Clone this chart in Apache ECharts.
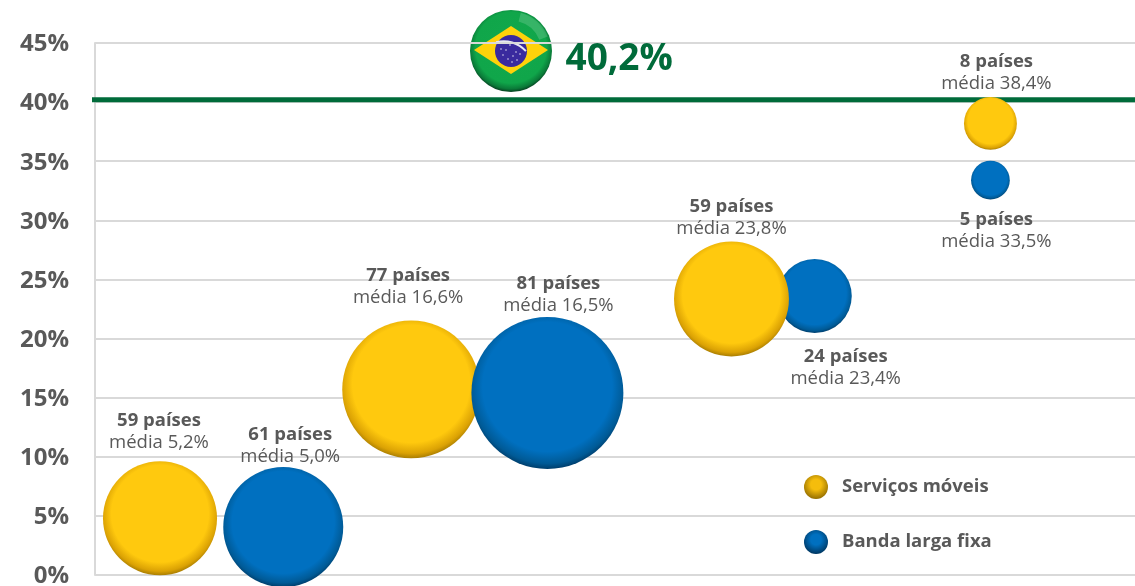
<!DOCTYPE html>
<html>
<head>
<meta charset="utf-8">
<style>
html, body { margin: 0; padding: 0; background: #fff; }
#main { width: 1135px; height: 586px; }
</style>
<script src="https://cdn.jsdelivr.net/npm/echarts@6/dist/echarts.min.js"></script>
</head>
<body>
<div id="main"></div>
<script>
// valores
const movelX = [6.25, 30.4, 61.2, 86.1];
const movelY = [4.8, 15.7, 23.35, 38.2];
const movelBolha = [130, 190, 132, 28];
const movelPaises = [59, 77, 59, 8];
const movelMedia = ['5,2', '16,6', '23,8', '38,4'];

const fixaX = [18.1, 43.5, 69.2, 86.1];
const fixaY = [4.05, 15.4, 23.6, 33.4];
const fixaBolha = [144, 231, 55, 15];
const fixaPaises = [61, 81, 24, 5];
const fixaMedia = ['5,0', '16,5', '23,4', '33,5'];

const brasilValor = 40.2;
const brasilTexto = '40,2%';

const textColor = '#595959';
const fontName = '"Open Sans", sans-serif';

function bolhaGrad(meio, borda, fundo) {
  return new echarts.graphic.RadialGradient(0.5, 0.46, 0.56, [
    { offset: 0, color: meio },
    { offset: 0.76, color: meio },
    { offset: 0.9, color: borda },
    { offset: 1, color: fundo }
  ]);
}
const amarelo = bolhaGrad('#FFC90E', '#dba204', '#8f6a00');
const azul = bolhaGrad('#0070C0', '#005a96', '#002f55');

function esferaGrad(claro, escuro) {
  return new echarts.graphic.RadialGradient(0.5, 0.4, 0.62, [
    { offset: 0, color: claro },
    { offset: 0.35, color: claro },
    { offset: 1, color: escuro }
  ]);
}

function labelFor(paises, media, pos) {
  return {
    show: true,
    position: pos.position,
    distance: pos.distance,
    offset: pos.offset,
    formatter: '{a|' + paises + ' países}\n{b|média ' + media + '%}',
    rich: {
      a: { fontFamily: fontName, fontWeight: 'bold', fontSize: 18.5, color: textColor, lineHeight: 22 },
      b: { fontFamily: fontName, fontSize: 18.5, color: textColor, lineHeight: 22 }
    }
  };
}

const movelPos = [
  { position: 'top', distance: 8, offset: [-1, 0] },
  { position: 'top', distance: 12, offset: [-3, 0] },
  { position: 'top', distance: 2, offset: [0, 0] },
  { position: 'top', distance: 2, offset: [6, 0] }
];
const fixaPos = [
  { position: 'top', distance: -1, offset: [7, 0] },
  { position: 'top', distance: 0, offset: [11, 0] },
  { position: 'bottom', distance: 13, offset: [31, 0] },
  { position: 'bottom', distance: 9, offset: [6, 0] }
];

function pontos(xs, ys, tam, paises, medias, posicoes, idx) {
  return idx.map(function (i) {
    return {
      value: [xs[i], ys[i], tam[i]],
      label: labelFor(paises[i], medias[i], posicoes[i])
    };
  });
}

function bolhas(nome, cor, data, z) {
  return {
    name: nome,
    type: 'scatter',
    clip: false,
    z: z,
    symbolSize: function (v) { return Math.sqrt(v[2]) * 10; },
    itemStyle: { color: cor, opacity: 1 },
    emphasis: { disabled: true },
    data: data
  };
}

// bandeira do Brasil (enfeite em cima da linha)
const estrelas = [[-8, 4], [-3, 8], [2, 5], [6, 9], [9, 3], [-10, -2], [1, 11], [-5, -1], [5, 1], [-1, -6]];
const flag = {
  type: 'group',
  x: 511,
  y: 51,
  z: 10,
  children: [
    { type: 'circle', shape: { r: 41 }, style: { fill: new echarts.graphic.RadialGradient(0.5, 0.46, 0.54, [
        { offset: 0, color: '#12a84c' }, { offset: 0.8, color: '#10a64a' }, { offset: 0.93, color: '#0a7a38' }, { offset: 1, color: '#063f20' }
      ]) } },
    { type: 'arc', shape: { cx: 0, cy: 0, r: 35, startAngle: -Math.PI * 0.42, endAngle: -Math.PI * 0.12 },
      style: { stroke: 'rgba(255,255,255,0.16)', lineWidth: 9, fill: null } },
    { type: 'polygon', shape: { points: [[-37, -1], [0, -25], [37, -1], [0, 23]] }, style: { fill: '#FFD20A' } },
    { type: 'circle', shape: { cx: 0, cy: 0, r: 16 }, style: { fill: '#3a2a9e' } },
    { type: 'arc', shape: { cx: -7.4, cy: 20.2, r: 30, startAngle: -Math.PI * 0.581, endAngle: -Math.PI * 0.233 },
      style: { stroke: '#e8e8f2', lineWidth: 2, fill: null } }
  ].concat(estrelas.map(function (p) {
    return { type: 'circle', shape: { cx: p[0], cy: p[1], r: 0.7 }, style: { fill: '#fff' } };
  }))
};

const chart = echarts.init(document.getElementById('main'));
chart.setOption({
  animation: false,
  textStyle: { fontFamily: fontName },
  grid: { left: 95, right: 0, top: 43, bottom: 11, outerBoundsMode: 'none' },
  legend: {
    left: 804,
    top: 475,
    padding: 0,
    orient: 'vertical',
    icon: 'circle',
    itemWidth: 24,
    itemHeight: 24,
    itemGap: 31,
    selectedMode: false,
    textStyle: { fontFamily: fontName, fontWeight: 'bold', fontSize: 18.5, color: textColor, padding: [0, 0, 0, 9] },
    data: [
      { name: 'Serviços móveis', itemStyle: { color: esferaGrad('#f5bd0c', '#8f6a00') } },
      { name: 'Banda larga fixa', itemStyle: { color: esferaGrad('#0070c0', '#00345c') } }
    ]
  },
  xAxis: { type: 'value', min: 0, max: 100, show: false, splitLine: { show: false } },
  yAxis: {
    type: 'value',
    min: 0,
    max: 45,
    interval: 5,
    axisLine: { show: true, lineStyle: { color: '#D9D9D9', width: 2 } },
    axisTick: { show: false },
    splitLine: { lineStyle: { color: '#D9D9D9', width: 2 } },
    axisLabel: {
      formatter: '{t|{value}%}',
      margin: 26,
      rich: {
        t: {
          fontFamily: fontName,
          fontWeight: 'bold',
          fontSize: 24,
          color: textColor,
          padding: [3, 0, 0, 0]
        }
      }
    }
  },
  series: [
    {
      type: 'line',
      clip: false,
      z: 1,
      symbol: 'none',
      silent: true,
      lineStyle: { color: '#006B3A', width: 5 },
      data: [[-0.4, brasilValor], [100, brasilValor]]
    },
    {
      type: 'scatter',
      z: 6,
      symbol: 'circle',
      symbolSize: 1,
      silent: true,
      itemStyle: { color: 'transparent', opacity: 1 },
      data: [[50.4, brasilValor]],
      label: {
        show: true,
        position: 'top',
        distance: 21,
        formatter: brasilTexto,
        fontFamily: fontName,
        fontWeight: 'bold',
        fontSize: 37,
        color: '#006B3A'
      }
    },
    bolhas('Banda larga fixa', azul, pontos(fixaX, fixaY, fixaBolha, fixaPaises, fixaMedia, fixaPos, [2]), 2),
    bolhas('Serviços móveis', amarelo, pontos(movelX, movelY, movelBolha, movelPaises, movelMedia, movelPos, [0, 1, 2, 3]), 3),
    bolhas('Banda larga fixa', azul, pontos(fixaX, fixaY, fixaBolha, fixaPaises, fixaMedia, fixaPos, [0, 1, 3]), 4)
  ],
  graphic: [flag]
});
</script>
</body>
</html>
